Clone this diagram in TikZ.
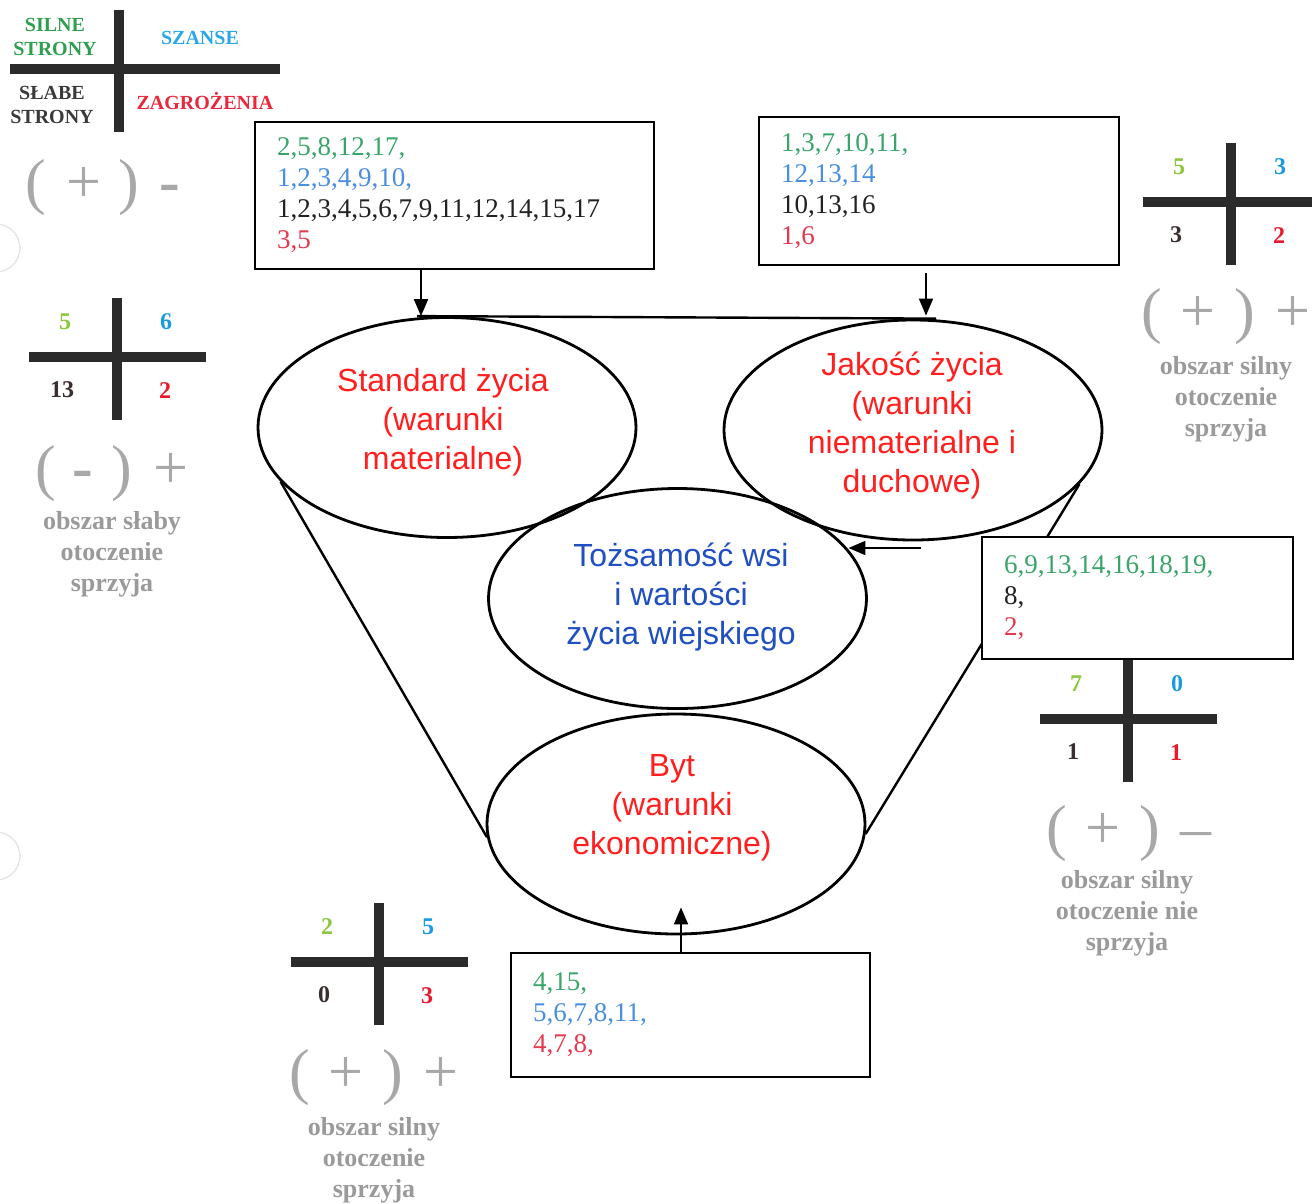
\documentclass[tikz,border=0pt]{standalone}
\usepackage{fontspec}
\setmainfont{Liberation Serif}
\newfontfamily\arialf{Liberation Sans}
\usetikzlibrary{shapes.geometric,arrows.meta,calc}
\definecolor{bgreen}{HTML}{3AA56A}
\definecolor{bblue}{HTML}{4A8FE0}
\definecolor{bred}{HTML}{E63950}
\definecolor{btext}{HTML}{222222}
\definecolor{cgreen}{HTML}{8DC63F}
\definecolor{cblue}{HTML}{1C9AE0}
\definecolor{cred}{HTML}{E8192C}
\definecolor{cdark}{HTML}{3B2E2E}
\definecolor{lgreen}{HTML}{2E9E4F}
\definecolor{lblue}{HTML}{2AA7E6}
\definecolor{ldark}{HTML}{3A3A3A}
\definecolor{lred}{HTML}{E8283C}
\definecolor{ered}{HTML}{FF1F1F}
\definecolor{eblue}{HTML}{1F4FC0}
\definecolor{signgrey}{HTML}{A8A8A8}
\definecolor{labgrey}{HTML}{9A9A9A}
\definecolor{crossc}{HTML}{2B2B2B}
\definecolor{holec}{HTML}{E2E2E2}
\newcommand{\swotcross}[7]{%
  \begin{scope}[shift={(#2,#3)}]
    \draw[crossline] (-88,0) -- (89,0);
    \draw[crossline] (0,-59) -- (0,63);
    \node[cnum, text=cgreen] (#1s) at (-52,-35) {#4};
    \node[cnum, text=cblue] (#1o) at (49,-35) {#5};
    \node[cnum, text=cdark] (#1w) at (-55,33) {#6};
    \node[cnum, text=cred] (#1t) at (48,34) {#7};
  \end{scope}}
\begin{document}
\begin{tikzpicture}[x=1pt,y=-1pt,
  boxn/.style={draw=black, line width=1.8pt, fill=white, align=left, inner xsep=22pt, inner ysep=0pt, text=btext, font=\fontsize{27}{31}\selectfont},
  ell/.style={ellipse, draw=black, line width=2.8pt, inner sep=0pt, minimum width=378pt, minimum height=220pt},
  etext/.style={align=center, font=\arialf\fontsize{32}{39}\selectfont},
  funnel/.style={line width=2.4pt, draw=black},
  arr/.style={line width=1.8pt, -{Triangle[width=14pt,length=17pt]}},
  crossline/.style={line width=10pt, draw=crossc},
  cnum/.style={font=\bfseries\fontsize{24}{24}\selectfont},
  signs/.style={text=signgrey, font=\fontsize{62}{62}\selectfont, inner sep=0pt},
  glabel/.style={align=center, text=labgrey, font=\bfseries\fontsize{26}{31}\selectfont},
  legend/.style={align=center, font=\bfseries\fontsize{20}{24}\selectfont},
  holes/.style={draw=holec, line width=1.2pt}
]
\useasboundingbox (0,0) rectangle (1312,1203);
\fill[white] (0,0) rectangle (1312,1203);

% binder holes
\draw[holes] (-4,248) circle (24);
\draw[holes] (-4,856) circle (24);

% legend
\draw[crossline] (10,69) -- (280,69);
\draw[crossline] (119,10) -- (119,132);
\node[legend, text=lgreen] (lsilne) at (55,37) {SILNE\\STRONY};
\node[legend, text=lblue] (lszanse) at (200,38) {SZANSE};
\node[legend, text=ldark] (lslabe) at (52,105) {SŁABE\\STRONY};
\node[legend, text=lred] (lzagr) at (205,101) {ZAGROŻENIA};
\node[signs] (lsign) at (103,188) {(\hspace{20pt}+\hspace{17pt})\hspace{21pt}{\bfseries -}};

% ellipses
\node[ell] (std) at (447,427.5) {};
\node[ell] (jak) at (913,430) {};
\node[ell] (toz) at (677.5,598.5) {};
\node[ell] (byt) at (676,824) {};

\node[etext, text=ered] (stdt) at (443,422) {Standard życia\\(warunki\\materialne)};
\node[etext, text=ered] (jakt) at (912,426) {Jakość życia\\(warunki\\niematerialne i\\duchowe)};
\node[etext, text=eblue] (tozt) at (681,597) {Tożsamość wsi\\i wartości\\życia wiejskiego};
\node[etext, text=ered] (bytt) at (672,808) {Byt\\(warunki\\ekonomiczne)};

% funnel lines
\draw[funnel] ([xshift=-30pt]std.north) -- ([xshift=23pt]jak.north);
\draw[funnel] (std.198) -- (byt.184);
\draw[funnel] (jak.342) -- (byt.357);

% boxes
\node[boxn, text width=355pt, minimum height=147pt] (box1) at (454.5,195.5)
  {{\color{bgreen}2,5,8,12,17,}\\{\color{bblue}1,2,3,4,9,10,}\\1,2,3,4,5,6,7,9,11,12,14,15,17\\{\color{bred}3,5}};
\node[boxn, text width=316pt, minimum height=148pt] (box2) at (939,191)
  {{\color{bgreen}1,3,7,10,11,}\\{\color{bblue}12,13,14}\\10,13,16\\{\color{bred}1,6}};
\node[boxn, text width=267pt, minimum height=122pt] (box3) at (1137.5,598)
  {{\color{bgreen}6,9,13,14,16,18,19,}\\8,\\{\color{bred}2,}};
\node[boxn, text width=315pt, minimum height=124pt] (box4) at (690.5,1015)
  {{\color{bgreen}4,15,}\\{\color{bblue}5,6,7,8,11,}\\{\color{bred}4,7,8,}};

% arrows
\draw[arr] ([xshift=-33.5pt]box1.south) -- ([xshift=-33.5pt]box1.south |- std.north);
\draw[arr] ([xshift=-13pt,yshift=-7pt]box2.south) -- ([xshift=-13pt,yshift=3pt]box2.south |- jak.north);
\coordinate (a3) at (921,548);
\draw[arr] (a3) -- (a3 -| toz.16);
\draw[arr] ([xshift=-9.5pt]box4.north) -- ([xshift=5pt,yshift=28pt]byt.south);

% SWOT crosses
\swotcross{rt}{1231}{202}{5}{3}{3}{2}
\node[signs] (rtsign) at (1226,317) {(\hspace{18pt}+\hspace{19pt})\hspace{20pt}+};
\node[glabel] (rtlab) at (1226,399) {obszar silny\\otoczenie\\sprzyja};

\swotcross{lf}{117}{357}{5}{6}{13}{2}
\node[signs] (lfsign) at (112,474) {(\hspace{17pt}{\bfseries -}\hspace{18pt})\hspace{22pt}+};
\node[glabel] (lflab) at (112,554) {obszar słaby\\otoczenie\\sprzyja};

\swotcross{rm}{1128}{719}{7}{0}{1}{1}
\node[signs] (rmsign) at (1129,834) {(\hspace{18pt}+\hspace{19pt})\hspace{20pt}–};
\node[glabel] (rmlab) at (1127,913) {obszar silny\\otoczenie nie\\sprzyja};

\swotcross{bt}{379}{962}{2}{5}{0}{3}
\node[signs] (btsign) at (374,1078) {(\hspace{18pt}+\hspace{19pt})\hspace{20pt}+};
\node[glabel] (btlab) at (374,1160) {obszar silny\\otoczenie\\sprzyja};
\end{tikzpicture}
\end{document}
